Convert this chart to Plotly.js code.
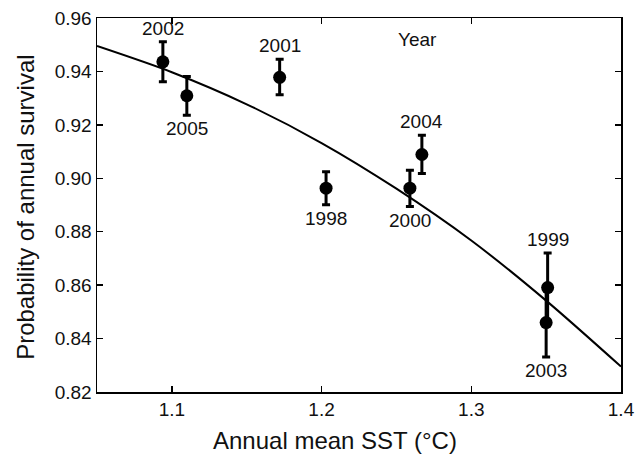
<!DOCTYPE html>
<html>
<head>
<meta charset="utf-8">
<script src="https://cdn.plot.ly/plotly-3.0.1.min.js"></script>
<style>html,body{margin:0;padding:0;background:#fff;}#chart{width:644px;height:457px;}</style>
</head>
<body>
<div id="chart"></div>
<script>
// ---- data ----
const years    = ['2002', '2005', '2001', '1998', '2000', '2004', '1999', '2003'];
const sst      = [1.094, 1.110, 1.172, 1.203, 1.259, 1.267, 1.351, 1.350];
const survival = [0.9436, 0.9309, 0.9378, 0.8963, 0.8963, 0.9089, 0.8591, 0.8460];
const upper    = [0.9511, 0.9381, 0.9446, 0.9024, 0.9030, 0.9161, 0.8720, 0.8590];
const lower    = [0.9361, 0.9236, 0.9313, 0.8901, 0.8894, 0.9018, 0.8460, 0.8331];
const labelSide = ['above', 'below', 'above', 'below', 'below', 'above', 'above', 'below'];

const fitX = [1.05, 1.10, 1.15, 1.20, 1.25, 1.30, 1.35, 1.40];
const fitY = [0.9495, 0.9397, 0.9277, 0.9132, 0.8961, 0.8767, 0.8542, 0.8295];

const xTicks = [1.1, 1.2, 1.3, 1.4];
const yTicks = [0.82, 0.84, 0.86, 0.88, 0.90, 0.92, 0.94, 0.96];
const cornerLabel = 'Year';
const xTitle = 'Annual mean SST (°C)';
const yTitle = 'Probability of annual survival';

const FONT = 'Liberation Sans, Arial, Helvetica, sans-serif';

const errPlus  = upper.map((u, i) => u - survival[i]);
const errMinus = lower.map((l, i) => survival[i] - l);

const traces = [
  {
    x: fitX, y: fitY, type: 'scatter', mode: 'lines',
    line: {color: '#000', width: 2, shape: 'spline', smoothing: 0.8},
    hoverinfo: 'skip', showlegend: false
  },
  {
    x: sst, y: survival, type: 'scatter', mode: 'markers',
    marker: {color: '#000', size: 13},
    error_y: {type: 'data', symmetric: false, array: errPlus, arrayminus: errMinus,
              color: '#000', thickness: 3, width: 4},
    showlegend: false
  }
];

const annotations = years.map((yr, i) => {
  const up = labelSide[i] === 'above';
  return {
    x: sst[i], y: up ? upper[i] : lower[i], xref: 'x', yref: 'y',
    text: yr, showarrow: false,
    xanchor: 'center', yanchor: up ? 'bottom' : 'top',
    yshift: up ? 1 : -1,
    font: {family: FONT, size: 19, color: '#111'}
  };
});
annotations.push({
  x: 1.264, y: 0.9521, xref: 'x', yref: 'y', text: cornerLabel, showarrow: false,
  xanchor: 'center', yanchor: 'middle',
  font: {family: FONT, size: 19, color: '#111'}
});
// axis titles (placed as annotations to match the reference's offset)
annotations.push({
  x: 0.454, y: -0.131, xref: 'paper', yref: 'paper', text: xTitle, showarrow: false,
  xanchor: 'center', yanchor: 'middle',
  font: {family: FONT, size: 24, color: '#111'}
});
annotations.push({
  x: -0.1355, y: 0.495, xref: 'paper', yref: 'paper', text: yTitle, showarrow: false,
  textangle: -90, xanchor: 'center', yanchor: 'middle',
  font: {family: FONT, size: 24, color: '#111'}
});

const axisCommon = {
  showline: true, linecolor: '#000', linewidth: 1.5, mirror: 'ticks',
  ticks: 'inside', ticklen: 6, tickwidth: 1.5, tickcolor: '#000',
  showgrid: false, zeroline: false,
  tickfont: {family: FONT, size: 19, color: '#111'}
};

const layout = {
  width: 644, height: 457,
  margin: {l: 97, r: 23, t: 18, b: 65},
  paper_bgcolor: '#fff', plot_bgcolor: '#fff',
  font: {family: FONT, color: '#111'},
  xaxis: Object.assign({}, axisCommon, {
    range: [1.05, 1.4], tickmode: 'array', tickvals: xTicks,
    ticktext: xTicks.map(v => v.toFixed(1))
  }),
  yaxis: Object.assign({}, axisCommon, {
    range: [0.82, 0.96], tickmode: 'array', tickvals: yTicks,
    ticktext: yTicks.map(v => v.toFixed(2))
  }),
  annotations: annotations
};

Plotly.newPlot('chart', traces, layout, {displayModeBar: false, staticPlot: true});
</script>
</body>
</html>
